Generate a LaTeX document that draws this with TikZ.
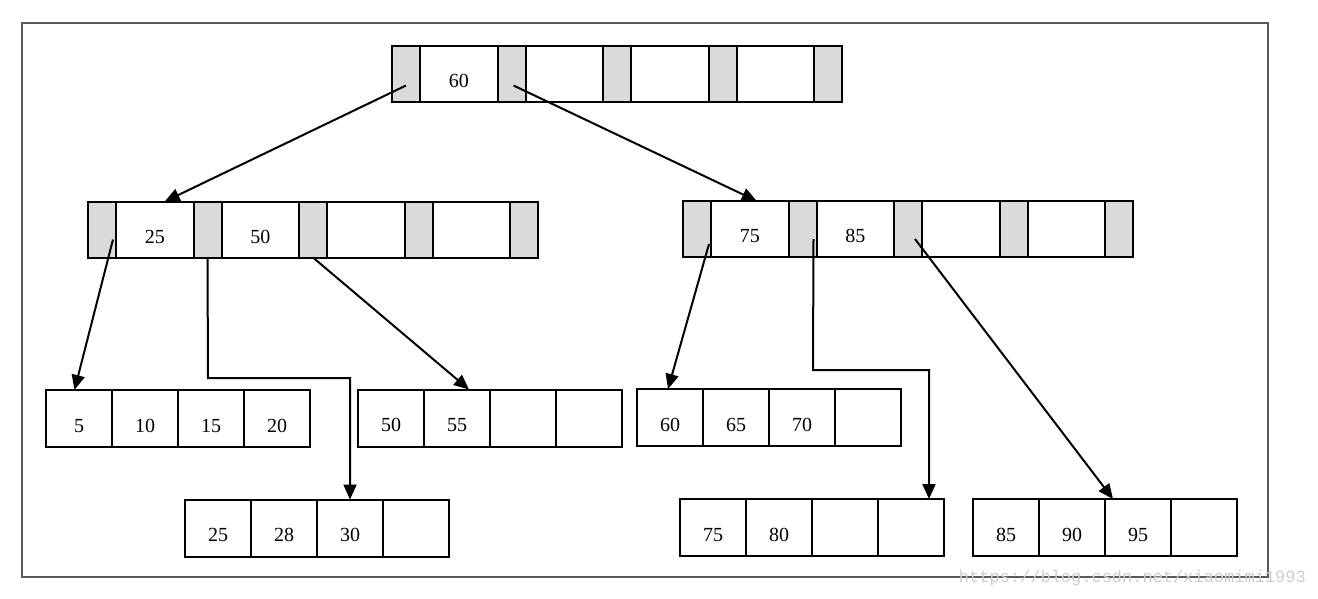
\documentclass[tikz,border=0pt]{standalone}
\usepackage{fontspec}
\setmainfont{Liberation Serif}
\newfontfamily\wmfont{Liberation Mono}
\usetikzlibrary{arrows.meta,calc}
\definecolor{cellgray}{RGB}{218,218,218}
\definecolor{framegray}{RGB}{90,90,90}
\definecolor{wmgray}{RGB}{205,205,205}
\tikzset{
  cellbase/.style={draw=black,line width=2pt,inner sep=0pt,outer sep=0pt,
    anchor=north west,minimum height=56pt,text height=27pt,text depth=0pt,
    font=\fontsize{20}{20}\selectfont},
  gcell/.style={cellbase,fill=cellgray,minimum width=28pt},
  kcell/.style={cellbase,fill=white,minimum width=77.5pt},
  lcell/.style={cellbase,fill=white,minimum width=66pt,minimum height=57pt},
  arr/.style={line width=2pt,-{Triangle[length=15pt,width=13pt]}},
}
\newcommand\bpinner[5]{%
  \node[gcell] (#1-g1) at (#2,#3) {};
  \node[kcell] (#1-k1) at (#1-g1.north east) {#4};
  \node[gcell] (#1-g2) at (#1-k1.north east) {};
  \node[kcell] (#1-k2) at (#1-g2.north east) {#5};
  \node[gcell] (#1-g3) at (#1-k2.north east) {};
  \node[kcell] (#1-k3) at (#1-g3.north east) {};
  \node[gcell] (#1-g4) at (#1-k3.north east) {};
  \node[kcell] (#1-k4) at (#1-g4.north east) {};
  \node[gcell] (#1-g5) at (#1-k4.north east) {};
}
\newcommand\bpleaf[7]{%
  \node[lcell] (#1-1) at (#2,#3) {#4};
  \node[lcell] (#1-2) at (#1-1.north east) {#5};
  \node[lcell] (#1-3) at (#1-2.north east) {#6};
  \node[lcell] (#1-4) at (#1-3.north east) {#7};
}
\begin{document}
\begin{tikzpicture}[x=1pt,y=-1pt]
  \useasboundingbox (0,0) rectangle (1318,598);
  \node[draw=framegray,line width=1.2pt,inner sep=0pt,outer sep=0pt,
    minimum width=1246pt,minimum height=554pt,anchor=north west] (frame) at (22,23) {};
  % internal nodes
  \bpinner{r}{392}{45.5}{60}{}
  \bpinner{l}{88}{201.5}{25}{50}
  \bpinner{q}{683}{201}{75}{85}
  % leaves
  \bpleaf{A}{46}{390}{5}{10}{15}{20}
  \bpleaf{B}{185}{499.5}{25}{28}{30}{}
  \bpleaf{C}{358}{389.5}{50}{55}{}{}
  \bpleaf{D}{637}{389}{60}{65}{70}{}
  \bpleaf{E}{680}{499}{75}{80}{}{}
  \bpleaf{F}{973}{499}{85}{90}{95}{}
  % bend points
  \coordinate (bl) at (208,378);
  \coordinate (bq) at (813,370);
  % connectors
  \draw[arr] ($(r-g1.center)+(0,12)$) -- ($(l-k1.north)+(10,0)$);
  \draw[arr] ($(r-g2.center)+(2,12)$) -- ($(q-k1.north)+(7,0)$);
  \draw[arr] ($(l-g1.center)+(11,10)$) -- ($(A-1.north)+(-4.5,0)$);
  \draw[arr] (l-g2.south) -- (bl) -| (B-3.north);
  \draw[arr] (l-g3.south) -- ($(C-2.north)+(12,0)$);
  \draw[arr] ($(q-g1.center)+(12,15)$) -- ($(D-1.north)+(-2,0)$);
  \draw[arr] ($(q-g2.center)+(11,10)$) -- (bq) -| ($(E-4.north)+(18,0)$);
  \draw[arr] ($(q-g3.center)+(7,10)$) -- ($(F-3.north)+(-25,0)$);
  % watermark
  \node[anchor=east,inner sep=0pt,text=wmgray,font=\wmfont\fontsize{17}{17}\selectfont] (wm) at (1306,578) {https://blog.csdn.net/xiaomimi1993};
\end{tikzpicture}
\end{document}
